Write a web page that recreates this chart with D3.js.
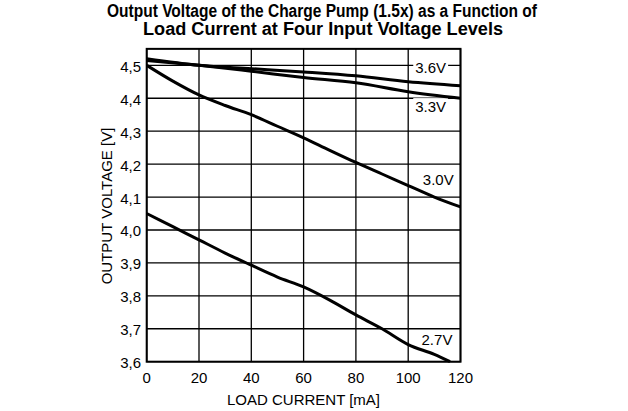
<!DOCTYPE html>
<html>
<head>
<meta charset="utf-8">
<script src="https://cdn.jsdelivr.net/npm/d3@7"></script>
<style>
  body { margin: 0; background: white; }
  text { font-family: "Liberation Sans", Arial, sans-serif; fill: black; }
</style>
</head>
<body>
<svg id="chart" width="628" height="411"></svg>
<script>
let width = 628, height = 411;
let margin = {left: 146.7, right: 628 - 460.5, top: 49.3, bottom: 411 - 361.7};

let xTicks = [0, 20, 40, 60, 80, 100, 120];
let yTicks = [3.6, 3.7, 3.8, 3.9, 4.0, 4.1, 4.2, 4.3, 4.4, 4.5];
let yTickLabels = ["3,6", "3,7", "3,8", "3,9", "4,0", "4,1", "4,2", "4,3", "4,4", "4,5"];

let seriesNames = ["3.6V", "3.3V", "3.0V", "2.7V"];
let current = {
  "3.6V": [0, 20, 40, 60, 80, 100, 120],
  "3.3V": [0, 20, 40, 60, 80, 100, 120],
  "3.0V": [0, 10, 20, 30, 40, 50, 60, 70, 80, 90, 100, 110, 120],
  "2.7V": [0, 10, 20, 30, 40, 50, 60, 70, 80, 90, 100, 110, 116]
};
let voltage = {
  "3.6V": [4.52, 4.50, 4.49, 4.48, 4.468, 4.45, 4.438],
  "3.3V": [4.515, 4.50, 4.482, 4.463, 4.447, 4.42, 4.40],
  "3.0V": [4.50, 4.452, 4.41, 4.378, 4.35, 4.315, 4.28, 4.242, 4.205, 4.17, 4.135, 4.10, 4.07],
  "2.7V": [4.05, 4.01, 3.97, 3.93, 3.893, 3.857, 3.827, 3.787, 3.742, 3.70, 3.652, 3.622, 3.60]
};
// label anchor (x in mA, baseline in V)
let labelX = {"3.6V": 108.6, "3.3V": 108.6, "3.0V": 111.5, "2.7V": 111};
let labelY = {"3.6V": 4.476, "3.3V": 4.358, "3.0V": 4.137, "2.7V": 3.651};

let svg = d3.select("#chart");

let x = d3.scaleLinear().domain([0, 120]).range([margin.left, width - margin.right]);
let y = d3.scaleLinear().domain([3.6, 4.5]).range([height - margin.bottom, height - margin.bottom - 9 * 32.93]);
let yTop = 4.55;

// grid
let grid = svg.append("g").attr("class", "grid");
grid.selectAll(".vgrid")
  .data(xTicks)
  .enter()
  .append("line")
  .attr("x1", d => x(d)).attr("x2", d => x(d))
  .attr("y1", y(3.6)).attr("y2", y(yTop))
  .attr("stroke", "black").attr("stroke-width", 1.3);
grid.selectAll(".hgrid")
  .data(yTicks)
  .enter()
  .append("line")
  .attr("x1", x(0)).attr("x2", x(120))
  .attr("y1", d => y(d)).attr("y2", d => y(d))
  .attr("stroke", "black").attr("stroke-width", 1.3);

// frame
svg.append("rect")
  .attr("x", x(0)).attr("y", y(yTop))
  .attr("width", x(120) - x(0)).attr("height", y(3.6) - y(yTop))
  .attr("fill", "none").attr("stroke", "black").attr("stroke-width", 2);

// labels with white boxes
let lab = svg.append("g").attr("class", "labels");
seriesNames.forEach(name => {
  let tx = x(labelX[name]), ty = y(labelY[name]);
  let t = lab.append("text")
    .attr("x", tx).attr("y", ty)
    .attr("text-anchor", "middle")
    .attr("font-size", 15)
    .text(name);
  let bb = t.node().getBBox();
  lab.insert("rect", "text")
    .attr("x", bb.x - 2).attr("y", bb.y)
    .attr("width", bb.width + 4).attr("height", ty + 2 - bb.y)
    .attr("fill", "white");
});

// curves
let line = d3.line()
  .x(d => x(d[0]))
  .y(d => y(d[1]))
  .curve(d3.curveMonotoneX);

seriesNames.forEach(name => {
  let pts = current[name].map((c, i) => [c, voltage[name][i]]);
  svg.append("path")
    .datum(pts)
    .attr("d", line)
    .attr("fill", "none")
    .attr("stroke", "black")
    .attr("stroke-width", 3);
});

// tick labels
svg.selectAll(".ylab")
  .data(yTicks)
  .enter()
  .append("text")
  .attr("x", 141)
  .attr("y", d => y(d) + 6.5)
  .attr("text-anchor", "end")
  .attr("font-size", 15)
  .text((d, i) => yTickLabels[i]);

svg.selectAll(".xlab")
  .data(xTicks)
  .enter()
  .append("text")
  .attr("x", d => x(d))
  .attr("y", 383)
  .attr("text-anchor", "middle")
  .attr("font-size", 15)
  .text(d => d);

// axis titles
svg.append("text")
  .attr("x", 303.5)
  .attr("y", 405)
  .attr("text-anchor", "middle")
  .attr("font-size", 15)
  .text("LOAD CURRENT [mA]");

svg.append("text")
  .attr("transform", "translate(112, 206) rotate(-90)")
  .attr("text-anchor", "middle")
  .attr("font-size", 15)
  .text("OUTPUT VOLTAGE [V]");

// title
svg.append("text")
  .attr("x", 322).attr("y", 17)
  .attr("text-anchor", "middle")
  .attr("font-size", 18).attr("font-weight", "bold")
  .attr("textLength", 430).attr("lengthAdjust", "spacingAndGlyphs")
  .text("Output Voltage of the Charge Pump (1.5x) as a Function of");
svg.append("text")
  .attr("x", 323).attr("y", 34.5)
  .attr("text-anchor", "middle")
  .attr("font-size", 18).attr("font-weight", "bold")
  .attr("textLength", 360).attr("lengthAdjust", "spacingAndGlyphs")
  .text("Load Current at Four Input Voltage Levels");
</script>
</body>
</html>
